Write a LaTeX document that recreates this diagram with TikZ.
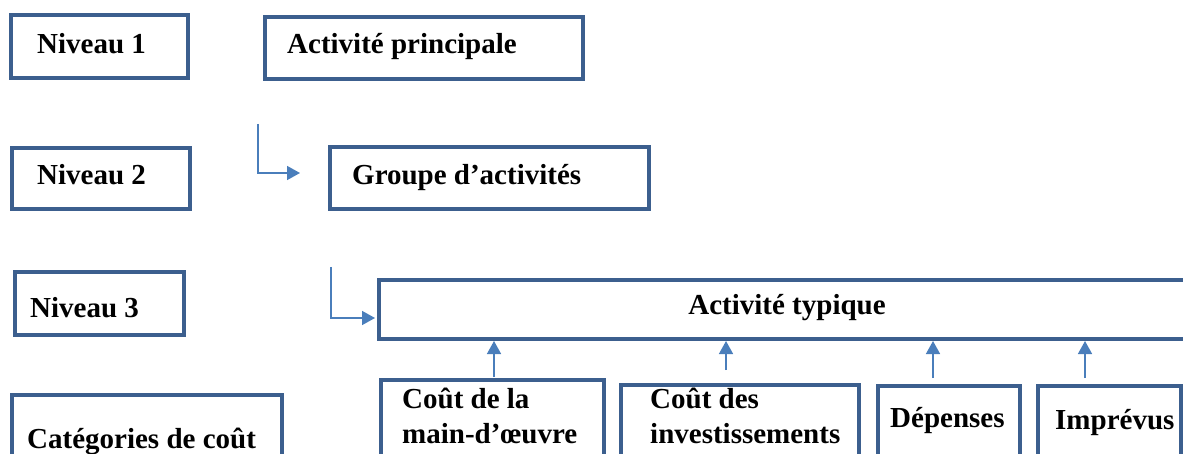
\documentclass[tikz,border=0pt]{standalone}
\usepackage{fontspec}
\setmainfont{Liberation Serif}
\usetikzlibrary{arrows.meta}
\definecolor{boxblue}{HTML}{3C5F8E}
\definecolor{arrowblue}{HTML}{4A7EBB}
\begin{document}
\begin{tikzpicture}[x=1pt,y=-1pt,
  box/.style={draw=boxblue,line width=4pt,rectangle,inner sep=0pt,anchor=north west},
  lbl/.style={inner sep=0pt,anchor=base west,align=left,font=\bfseries\fontsize{29}{35}\selectfont},
  conn/.style={draw=arrowblue,line width=1.5pt,-{Triangle[length=13pt,width=14pt]}}]
\path[use as bounding box] (0,0) rectangle (1183,454);
\clip (0,0) rectangle (1183,454);
% boxes
\node[box,minimum width=177pt,minimum height=63pt] (n1) at (9,13) {};
\node[box,minimum width=318pt,minimum height=62pt] (ap) at (263,15) {};
\node[box,minimum width=178pt,minimum height=61pt] (n2) at (10,146) {};
\node[box,minimum width=319pt,minimum height=62pt] (grp) at (328,145) {};
\node[box,minimum width=169pt,minimum height=63pt] (n3) at (13,270) {};
\node[box,minimum width=823pt,minimum height=59pt] (typ) at (377,278) {};
\node[box,minimum width=270pt,minimum height=90pt] (cat) at (10,393) {};
\node[box,minimum width=223pt,minimum height=100pt] (main) at (379,378) {};
\node[box,minimum width=238pt,minimum height=100pt] (inv) at (619,383) {};
\node[box,minimum width=142pt,minimum height=100pt] (dep) at (876,384) {};
\node[box,minimum width=143pt,minimum height=100pt] (imp) at (1036,384) {};
% texts
\node[lbl] (t1) at (37,54) {Niveau 1};
\node[lbl] (tap) at (287,54) {Activité principale};
\node[lbl] (t2) at (37,185) {Niveau 2};
\node[lbl] (tgrp) at (352,185) {Groupe d’activités};
\node[lbl] (t3) at (30,317) {Niveau 3};
\node[lbl,anchor=base] (ttyp) at (787,315) {Activité typique};
\node[lbl] (tcat) at (27,448) {Catégories de coût};
\node[lbl] (tmain) at (402,443) {Coût de la\\main-d’œuvre};
\node[lbl] (tinv) at (650,443) {Coût des\\investissements};
\node[lbl] (tdep) at (890,427) {Dépenses};
\node[lbl] (timp) at (1055,429) {Imprévus};
% connectors
\coordinate (c1s) at (258,124);
\coordinate (c1e) at (300,173);
\draw[conn] (c1s) |- (c1e);
\coordinate (c2s) at (331,267);
\coordinate (c2e) at (375,318);
\draw[conn] (c2s) |- (c2e);
\coordinate (a1) at (494,377);
\coordinate (a2) at (726,370);
\coordinate (a3) at (933,378);
\coordinate (a4) at (1085,378);
\foreach \a in {a1,a2,a3,a4}{
  \draw[conn] (\a) -- (\a |- typ.south);
}
\end{tikzpicture}
\end{document}
